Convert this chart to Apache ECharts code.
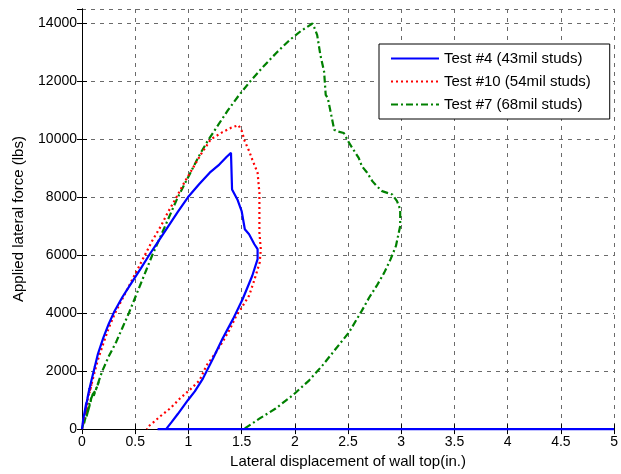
<!DOCTYPE html>
<html>
<head>
<meta charset="utf-8">
<script src="https://cdn.jsdelivr.net/npm/echarts@6/dist/echarts.min.js"></script>
<style>
html,body{margin:0;padding:0;background:#fff;}
#chart{width:621px;height:474px;}
</style>
</head>
<body>
<div id="chart"></div>
<script>
// ---- data ----
const seriesNames = ['Test #4 (43mil studs)', 'Test #10 (54mil studs)', 'Test #7 (68mil studs)'];
const xTicks = [0, 0.5, 1, 1.5, 2, 2.5, 3, 3.5, 4, 4.5, 5];
const yTicks = [0, 2000, 4000, 6000, 8000, 10000, 12000, 14000];

// [displacement (in.), force (lbs)]
const test4 = [
  [0,0],[0.01,300],[0.04,900],[0.02,450],[0.03,650],[0.07,1400],[0.05,1050],[0.08,1550],
  [0.12,2150],[0.10,1850],[0.15,2600],[0.20,3150],[0.25,3620],[0.30,4030],[0.38,4560],
  [0.465,5050],[0.55,5530],[0.63,6000],[0.72,6500],[0.81,7000],[0.90,7500],[0.995,8000],
  [1.10,8450],[1.20,8850],[1.29,9130],[1.36,9400],[1.40,9533],[1.41,8271],[1.42,8213],
  [1.46,7928],[1.50,7526],[1.53,6897],[1.57,6725],[1.62,6381],[1.65,6210],[1.65,5866],
  [1.60,5292],[1.51,4491],[1.42,3804],[1.32,3117],[1.23,2430],[1.136,1742],[1.06,1300],
  [0.995,997],[0.90,520],[0.84,230],[0.79,0],[0.71,0],[5,0]
];
const test10 = [
  [0,0],[0.02,400],[0.05,900],[0.03,550],[0.06,1150],[0.09,1550],[0.07,1250],[0.11,1850],
  [0.15,2400],[0.20,2950],[0.25,3480],[0.31,4000],[0.38,4500],[0.45,5000],[0.52,5500],
  [0.59,6000],[0.66,6500],[0.74,7000],[0.81,7500],[0.887,8000],[0.96,8500],[1.04,9000],
  [1.12,9500],[1.21,10000],[1.32,10250],[1.40,10400],[1.47,10490],[1.50,10300],
  [1.53,9931],[1.57,9600],[1.60,9302],[1.65,8845],[1.667,8158],[1.667,7584],[1.667,6784],
  [1.68,6210],[1.67,5753],[1.62,5150],[1.57,4605],[1.51,4250],[1.45,3918],[1.39,3450],
  [1.32,3003],[1.25,2600],[1.17,2199],[1.105,1684],[1.02,1380],[0.92,1055],[0.83,720],
  [0.73,426],[0.67,230],[0.62,82],[0.61,0]
];
const test7 = [
  [0,0],[0.02,300],[0.05,700],[0.02,200],[0.06,800],[0.09,1100],[0.04,400],[0.10,1200],
  [0.13,1350],[0.16,1650],[0.11,1150],[0.19,2000],[0.25,2500],[0.32,3000],[0.38,3500],
  [0.44,4000],[0.495,4500],[0.55,5000],[0.605,5500],[0.66,6000],[0.72,6500],[0.78,7000],
  [0.84,7500],[0.90,8000],[0.97,8500],[1.04,9000],[1.11,9500],[1.19,10000],[1.28,10500],
  [1.37,11000],[1.47,11500],[1.58,12000],[1.70,12500],[1.83,13000],[1.95,13426],
  [2.06,13750],[2.166,14000],[2.19,13800],[2.21,13598],
  [2.24,12910],[2.275,12337],[2.29,11536],[2.31,11420],[2.37,10333],[2.40,10275],
  [2.46,10220],[2.51,9876],[2.60,9361],[2.63,9072],[2.68,8850],[2.73,8550],[2.77,8385],
  [2.82,8213],[2.915,8099],[2.96,7869],[2.99,7584],[2.99,7010],[2.95,6323],[2.90,5866],
  [2.84,5400],[2.77,4950],[2.70,4550],[2.63,4089],[2.51,3347],[2.385,2773],[2.26,2199],
  [2.135,1684],[1.98,1168],[1.82,711],[1.67,368],[1.53,24],[1.51,0]
];

// ---- chart ----
const font = 'Liberation Sans, Arial, Helvetica, sans-serif';
const chart = echarts.init(document.getElementById('chart'), null, {renderer: 'canvas'});

const gridLine = {show: true, lineStyle: {color: '#6a6a6a', type: [4, 5], width: 1}};
const tickInside = {show: true, inside: true, length: 5, lineStyle: {color: '#000'}};
const axisLineBlack = {show: true, lineStyle: {color: '#000', width: 1}};
const plain = v => String(v);

const option = {
  animation: false,
  backgroundColor: '#fff',
  textStyle: {fontFamily: font},
  grid: {left: 82, right: 5, top: 9, bottom: 43, containLabel: false},
  legend: {
    orient: 'vertical',
    left: 379, top: 44,
    data: seriesNames,
    backgroundColor: '#fff',
    borderColor: '#000',
    borderWidth: 1,
    borderRadius: 0,
    padding: [7, 19, 7, 11],
    itemWidth: 48,
    itemHeight: 14,
    itemGap: 8,
    itemStyle: {opacity: 0},
    textStyle: {fontFamily: font, fontSize: 15, color: '#000'}
  },
  xAxis: [{
    type: 'value', min: xTicks[0], max: xTicks[xTicks.length - 1], interval: 0.5,
    position: 'bottom',
    name: 'Lateral displacement of wall top(in.)',
    nameLocation: 'middle', nameGap: 22,
    nameTextStyle: {fontFamily: font, fontSize: 15, color: '#000'},
    axisLine: axisLineBlack, axisTick: tickInside,
    axisLabel: {fontFamily: font, fontSize: 14, color: '#000', margin: 6, formatter: plain},
    splitLine: gridLine
  }, {
    type: 'value', min: xTicks[0], max: xTicks[xTicks.length - 1], interval: 0.5,
    position: 'top',
    axisLine: axisLineBlack, axisTick: tickInside,
    axisLabel: {show: false}, splitLine: {show: false}
  }],
  yAxis: [{
    type: 'value', min: yTicks[0], max: 14500, interval: 2000,
    position: 'left',
    name: 'Applied lateral force (lbs)',
    nameLocation: 'middle', nameGap: 56,
    nameTextStyle: {fontFamily: font, fontSize: 15, color: '#000'},
    axisLine: axisLineBlack, axisTick: tickInside,
    axisLabel: {fontFamily: font, fontSize: 14, color: '#000', margin: 5, showMaxLabel: false, formatter: plain},
    splitLine: gridLine
  }, {
    type: 'value', min: yTicks[0], max: 14500, interval: 2000,
    position: 'right',
    axisLine: axisLineBlack, axisTick: tickInside,
    axisLabel: {show: false}, splitLine: {show: false}
  }],
  series: [{
    name: seriesNames[0], type: 'line', data: test4, showSymbol: false, symbol: 'none',
    clip: false, z: 5,
    lineStyle: {color: '#0000ff', width: 2.2, type: 'solid'},
    itemStyle: {color: '#0000ff'}
  }, {
    name: seriesNames[1], type: 'line', data: test10, showSymbol: false, symbol: 'none',
    clip: false, z: 4,
    lineStyle: {color: '#ff0000', width: 2.2, type: [2, 3]},
    itemStyle: {color: '#ff0000'}
  }, {
    name: seriesNames[2], type: 'line', data: test7, showSymbol: false, symbol: 'none',
    clip: false, z: 3,
    lineStyle: {color: '#008000', width: 2.2, type: [7, 3, 2, 3]},
    itemStyle: {color: '#008000'}
  }]
};
chart.setOption(option);
</script>
</body>
</html>
